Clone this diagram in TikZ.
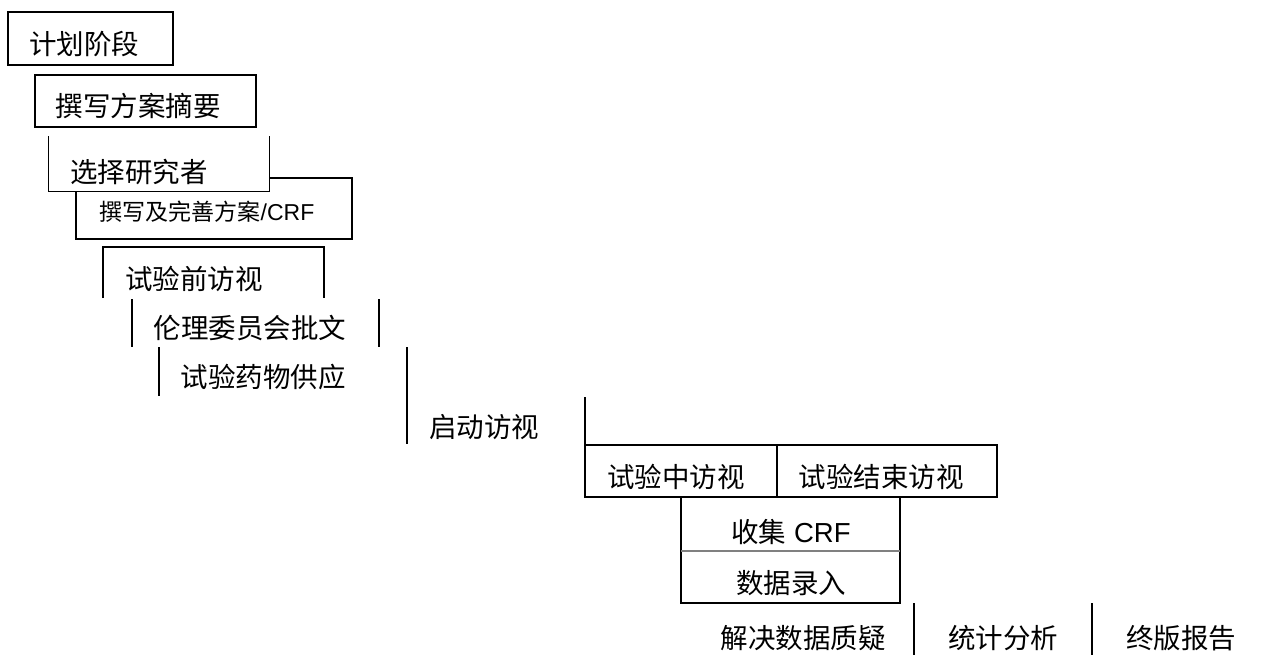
\documentclass[tikz,border=0pt]{standalone}
\usepackage{fontspec}
\setmainfont{Noto Sans CJK SC}
\newfontfamily\latn{Liberation Sans}
\begin{document}
\begin{tikzpicture}[x=1pt,y=-1pt,line width=1.4pt,line join=miter,
  lbl/.style={font=\fontsize{27.5}{30}\selectfont,inner sep=0pt,anchor=center},
  lblsmall/.style={font=\fontsize{23}{26}\selectfont,inner sep=0pt,anchor=center},
  thinline/.style={line width=0.9pt},
  sepline/.style={line width=1.2pt,draw=gray}]
\useasboundingbox (0,0) rectangle (1263,654);
% outlines
\draw (8,12) rectangle (173,65);
\draw (35,75) rectangle (256,127);
\draw[thinline] (48,136) -- (48,191) -- (269,191) -- (269,136);
\draw (269,178) -- (352,178) -- (352,239) -- (76,239) -- (76,191);
\draw (103,298) -- (103,247) -- (324,247) -- (324,298);
\draw (132,299) -- (132,347);
\draw (379,299) -- (379,347);
\draw (159,347) -- (159,396);
\draw (407,347) -- (407,444);
\draw (585,397) -- (585,497) -- (997,497) -- (997,445) -- (585,445);
\draw (777,445) -- (777,497);
\draw (681,497) -- (681,603) -- (900,603) -- (900,497);
\draw[sepline] (681,551) -- (900,551);
\draw (914,603) -- (914,660);
\draw (1092,603) -- (1092,660);
% labels
\node[lbl] (plan) at (84,44) {计划阶段};
\node[lbl] (abstract) at (138,106) {撰写方案摘要};
\node[lbl] (select) at (139,172) {选择研究者};
\node[lblsmall] (crf) at (207,212) {撰写及完善方案{\latn /CRF}};
\node[lbl] (previsit) at (194,279) {试验前访视};
\node[lbl] (ethics) at (250,328) {伦理委员会批文};
\node[lbl] (drug) at (263,377) {试验药物供应};
\node[lbl] (start) at (484,427) {启动访视};
\node[lbl] (mid) at (676,477) {试验中访视};
\node[lbl] (end) at (881,477) {试验结束访视};
\node[lbl] (collect) at (791,532) {收集{\latn\ CRF}};
\node[lbl] (entry) at (791,583) {数据录入};
\node[lbl] (query) at (803,638) {解决数据质疑};
\node[lbl] (stat) at (1003,638) {统计分析};
\node[lbl] (final) at (1181,638) {终版报告};
\end{tikzpicture}
\end{document}
